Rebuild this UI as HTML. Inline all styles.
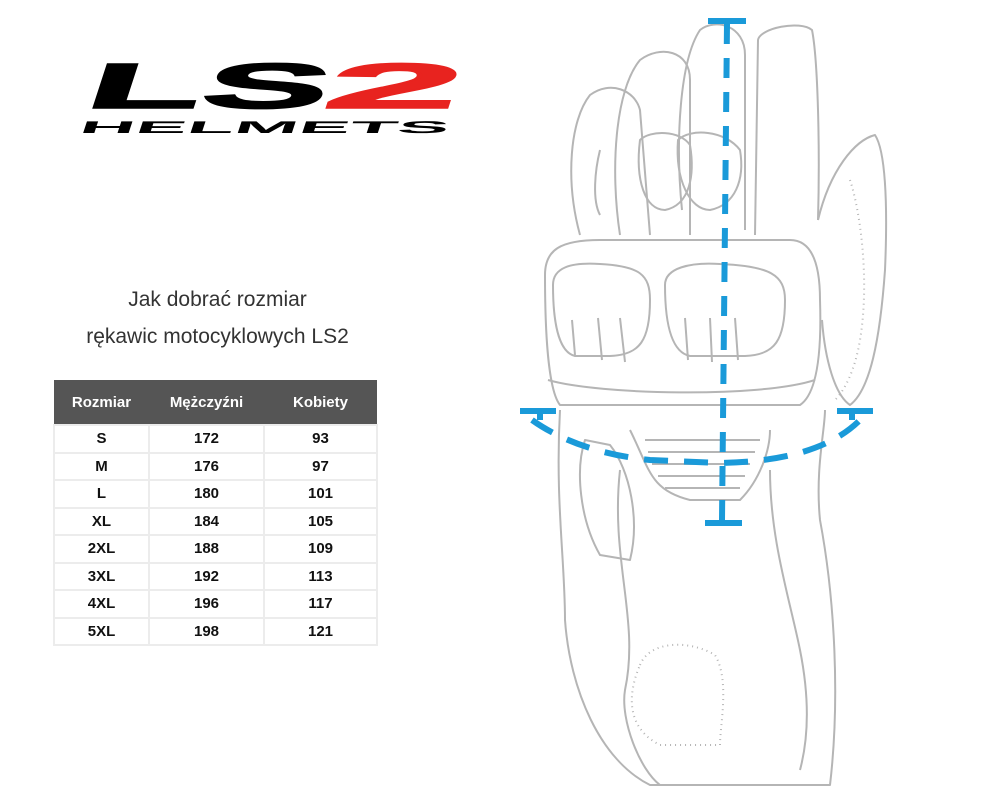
<!DOCTYPE html>
<html><head><meta charset="utf-8"><style>
html,body{margin:0;padding:0;background:#fff;}
body{width:988px;height:799px;position:relative;overflow:hidden;font-family:"Liberation Sans",sans-serif;}
.title{position:absolute;left:30px;width:375px;text-align:center;font-size:21px;color:#333;}
table{position:absolute;left:53px;top:380px;border-collapse:collapse;width:325px;}
th{background:#555;color:#fff;font-size:15px;height:44px;font-weight:bold;padding:0;}
td{font-size:15px;color:#111;text-align:center;height:25.5px;padding:0;border:2px solid #ececec;font-weight:bold;}
</style></head><body>
<svg style="position:absolute;left:0;top:0" width="988" height="799">
<g transform="translate(0,108) skewX(-18)">
<text transform="translate(82,0) scale(2.95,1)" font-family="Liberation Sans" font-weight="bold" font-size="64" fill="#000" stroke="#000" stroke-width="1.5">LS</text>
<text transform="translate(320,0) scale(3.8,1)" font-family="Liberation Sans" font-weight="bold" font-size="64" fill="#e8231f" stroke="#e8231f" stroke-width="1.5">2</text>
</g>
<g transform="translate(0,133) skewX(-18)">
<text transform="translate(78,0) scale(4.55,1)" font-family="Liberation Sans" font-weight="bold" font-size="17" fill="#000">HELMETS</text>
</g>
<g fill="none" stroke="#b5b5b5" stroke-width="2" stroke-linejoin="round">
<path d="M580 235 C565 180 570 120 590 95 C610 80 635 90 640 110 L650 235"/>
<path d="M620 235 C610 170 615 90 640 60 C660 45 690 50 690 80 L690 235"/>
<path d="M682 210 C675 140 680 60 700 30 C715 18 745 25 745 55 L745 230"/>
<path d="M755 235 L758 40 C760 28 800 20 812 30 C818 60 820 150 818 220"/>
<path d="M640 140 C650 130 680 130 690 145 C695 175 690 205 665 210 C645 210 635 180 640 140Z"/>
<path d="M678 140 C690 128 725 130 740 150 C745 180 735 205 710 210 C690 210 675 180 678 140Z"/>
<path d="M600 150 C595 170 592 200 600 215"/>
<path d="M818 220 C830 170 855 140 875 135 C885 150 888 200 885 270 C880 340 870 390 850 405 C835 395 825 360 822 320"/>
<path d="M545 275 C545 250 560 240 600 240 L790 240 C810 240 820 260 820 300 C822 360 815 395 800 405 L560 405 C548 390 545 330 545 275Z"/>
<path d="M553 285 C553 268 570 262 600 264 C640 266 650 275 650 300 C650 340 640 355 610 356 L575 356 C558 352 553 320 553 285Z"/>
<path d="M665 285 C665 268 690 262 720 264 C770 266 785 275 785 300 C785 340 775 355 745 356 L690 356 C670 352 665 320 665 285Z"/>
<path d="M572 320 L575 355 M598 318 L602 360 M620 318 L625 362 M685 318 L688 360 M710 318 L712 362 M735 318 L738 360"/>
<path d="M548 380 C600 395 760 398 815 380"/>
<path d="M560 410 C555 500 565 560 565 620 C570 690 600 760 650 785 L830 785 C840 700 835 600 820 520 C815 470 825 430 825 410"/>
<path d="M585 440 C575 470 580 520 600 555 L630 560 C640 520 630 470 610 445Z"/>
<path d="M630 430 C650 470 650 490 690 500 L740 500 C760 480 770 450 770 430"/>
<path d="M645 440 L760 440 M648 452 L755 452 M652 464 L750 464 M658 476 L745 476 M665 488 L740 488"/>
<path d="M620 470 C610 560 640 620 625 690 C620 720 640 770 660 785"/>
<path d="M770 470 C770 540 790 600 800 650 C810 700 808 740 800 770"/>
<path d="M640 665 C650 640 690 640 715 655 C730 680 720 725 720 745 L660 745 C630 730 625 700 640 665Z" stroke-dasharray="1 4"/>
<path d="M850 180 C860 210 870 280 860 340 C855 370 845 390 835 400" stroke-dasharray="1 4"/>
</g>
<g stroke="#1a9ad9" stroke-width="6" fill="none">
<path d="M708 21 L746 21 M705 523 L742 523 M520 411 L556 411 M837 411 L873 411 M540 411 L540 420 M852 411 L852 420"/>
<path d="M727 24 L722 520" stroke-dasharray="20 14"/>
<path d="M532 420 C560 440 600 455 650 460 L720 463 C780 462 830 450 860 420" stroke-dasharray="24 16"/>
</g>
</svg>
<div class="title" style="top:288px">Jak dobrać rozmiar</div>
<div class="title" style="top:325px">rękawic motocyklowych LS2</div>
<table>
<tr><th style="width:95px">Rozmiar</th><th style="width:115px">Mężczyźni</th><th>Kobiety</th></tr>
<tr><td>S</td><td>172</td><td>93</td></tr>
<tr><td>M</td><td>176</td><td>97</td></tr>
<tr><td>L</td><td>180</td><td>101</td></tr>
<tr><td>XL</td><td>184</td><td>105</td></tr>
<tr><td>2XL</td><td>188</td><td>109</td></tr>
<tr><td>3XL</td><td>192</td><td>113</td></tr>
<tr><td>4XL</td><td>196</td><td>117</td></tr>
<tr><td>5XL</td><td>198</td><td>121</td></tr>
</table>
</body></html>
